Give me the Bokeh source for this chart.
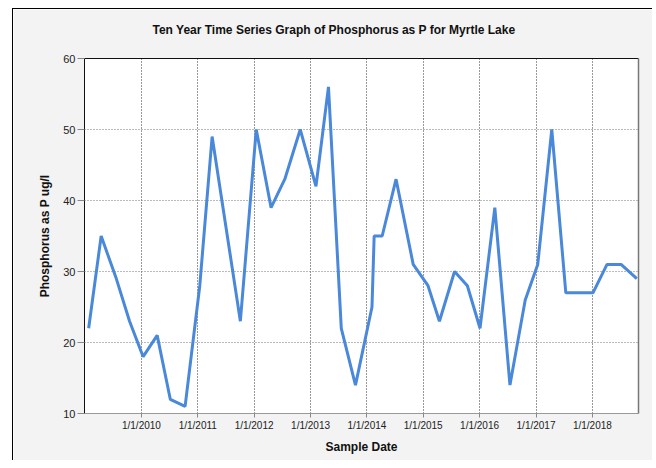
import datetime as dt
from bokeh.plotting import figure
from bokeh.models import FixedTicker, LinearAxis, Range1d, ColumnDataSource
from bokeh.embed import file_html
from bokeh.resources import INLINE

# ---- data ----
sample_dates = [
    "2009-01-24", "2009-04-15", "2009-07-22", "2009-10-16",
    "2010-01-12", "2010-04-13", "2010-07-07", "2010-10-11",
    "2011-01-14", "2011-04-04", "2011-10-04",
    "2012-01-15", "2012-04-20", "2012-07-18", "2012-10-26",
    "2013-02-05", "2013-04-27", "2013-07-19", "2013-10-19",
    "2014-02-03", "2014-02-17", "2014-04-10", "2014-07-09", "2014-10-28",
    "2015-02-01", "2015-04-16", "2015-07-23", "2015-10-14",
    "2016-01-04", "2016-04-09", "2016-07-16", "2016-10-23",
    "2017-01-12", "2017-04-13", "2017-07-13", "2017-10-12",
    "2018-01-05", "2018-04-06", "2018-07-06", "2018-10-16",
]
phosphorus = [
    22, 35, 29, 23,
    18, 21, 12, 11,
    28, 49, 23,
    50, 39, 43, 50,
    42, 56, 22, 14,
    25, 35, 35, 43, 31,
    28, 23, 30, 28,
    22, 39, 14, 26,
    31, 50, 27, 27,
    27, 31, 31, 29,
]
tick_dates = ["2010-01-01", "2011-01-01", "2012-01-01", "2013-01-01", "2014-01-01",
              "2015-01-01", "2016-01-01", "2017-01-01", "2018-01-01"]
tick_labels = ["1/1/2010", "1/1/2011", "1/1/2012", "1/1/2013", "1/1/2014",
               "1/1/2015", "1/1/2016", "1/1/2017", "1/1/2018"]
y_ticks = [10, 20, 30, 40, 50, 60]
x_start, x_end = "2008-12-28", "2018-10-27"

title = "Ten Year Time Series Graph of Phosphorus as P for Myrtle Lake"
x_label = "Sample Date"
y_label = "Phosphorus as P ug/l"


def ms(s):
    return int((dt.datetime.fromisoformat(s) - dt.datetime(1970, 1, 1)).total_seconds() * 1000)


src = ColumnDataSource(dict(x=[dt.datetime.fromisoformat(d) for d in sample_dates], y=phosphorus))

BG = "#f3f3f3"
p = figure(width=640, height=452, x_axis_type="datetime",
           x_range=Range1d(dt.datetime.fromisoformat(x_start), dt.datetime.fromisoformat(x_end)),
           y_range=Range1d(10, 60),
           output_backend="svg", toolbar_location=None,
           min_border_left=71, min_border_right=15, min_border_top=49, min_border_bottom=48,
           background_fill_color="white", border_fill_color=BG, outline_line_color=None)
p.styles = {"margin-left": "12px", "margin-top": "8px",
            "border-left": "1px solid #000", "border-top": "1px solid #000"}

# an empty second line lifts the title away from the frame
p.title.text = title + "\n "
p.title.align = "left"
p.title.offset = 68
p.title.standoff = 16
p.title.text_font = "Liberation Sans"
p.title.text_font_size = "12px"
p.title.text_font_style = "bold"
p.title.text_color = "#111111"

p.line("x", "y", source=src, line_color="#4a88d9", line_width=3)

# x axis
xa = p.xaxis[0]
xa.ticker = FixedTicker(ticks=[ms(d) for d in tick_dates])
xa.major_label_overrides = {ms(d): lab for d, lab in zip(tick_dates, tick_labels)}
xa.axis_label = x_label
xa.axis_label_text_font = "Liberation Sans"
xa.axis_label_text_font_size = "12px"
xa.axis_label_text_font_style = "bold"
xa.axis_label_text_color = "#111111"
xa.axis_label_standoff = 6
xa.major_label_text_font = "Liberation Sans"
xa.major_label_text_font_size = "10px"
xa.major_label_text_color = "#222222"
xa.major_label_standoff = 2
xa.axis_line_color = "#999999"
xa.major_tick_line_color = "#888888"
xa.major_tick_out = 4
xa.major_tick_in = 0
xa.minor_tick_line_color = None

# y axis
ya = p.yaxis[0]
ya.ticker = FixedTicker(ticks=y_ticks)
ya.axis_label = y_label
ya.axis_label_text_font = "Liberation Sans"
ya.axis_label_text_font_size = "12px"
ya.axis_label_text_font_style = "bold"
ya.axis_label_text_color = "#111111"
ya.axis_label_standoff = 8
ya.major_label_text_font = "Liberation Sans"
ya.major_label_text_font_size = "11px"
ya.major_label_text_color = "#222222"
ya.major_label_standoff = 2
ya.axis_line_color = "#111111"
ya.major_tick_line_color = "#888888"
ya.major_tick_out = 7
ya.major_tick_in = 0
ya.minor_tick_line_color = None

# frame borders top/right
for side, color in (("above", "#111111"), ("right", "#777777")):
    ax = LinearAxis(ticker=FixedTicker(ticks=[]), major_tick_out=0, major_tick_in=0,
                    minor_tick_out=0, minor_tick_in=0, major_label_text_font_size="0px",
                    axis_line_color=color, axis_line_width=1.5 if side == "right" else 1)
    p.add_layout(ax, side)

# grids
p.xgrid.ticker = FixedTicker(ticks=[ms(d) for d in tick_dates])
p.xgrid.grid_line_color = "#333333"
p.xgrid.grid_line_dash = "1 2"
p.ygrid.ticker = FixedTicker(ticks=y_ticks)
p.ygrid.grid_line_color = "#777777"
p.ygrid.grid_line_dash = "1 2"

html = file_html(p, INLINE)
html = html.replace("<body>", '<body style="background:#f3f3f3">', 1)
open("out.html", "w").write(html)
